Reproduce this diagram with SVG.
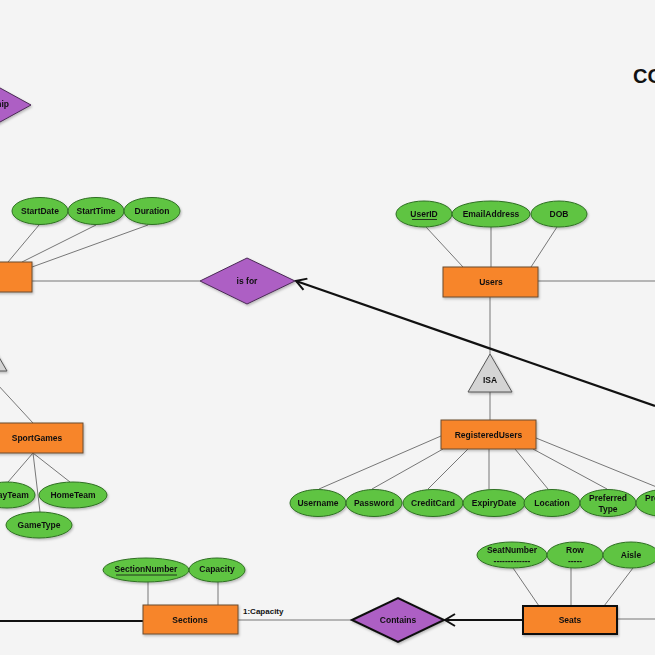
<svg xmlns="http://www.w3.org/2000/svg" width="655" height="655" viewBox="0 0 655 655">
<defs>
<style>
.ent{fill:#f7852c;stroke:#6b4a2e;stroke-width:1}
.entb{fill:#f7852c;stroke:#111;stroke-width:2}
.att{fill:#5ec443;stroke:#2f6f22;stroke-width:1}
.rel{fill:#ad5ec4;stroke:#4a2a55;stroke-width:1}
.relb{fill:#ad5ec4;stroke:#111;stroke-width:2}
.isa{fill:#d4d4d4;stroke:#555;stroke-width:1}
.t{font-family:"Liberation Sans",Arial,sans-serif;font-weight:bold;font-size:8.5px;fill:#111;text-anchor:middle;dominant-baseline:central}
.ln{stroke:#777;stroke-width:1;fill:none}
.thick{stroke:#111;stroke-width:2.2;fill:none}
</style>
<marker id="open" markerWidth="14" markerHeight="14" refX="11" refY="7" orient="auto" markerUnits="userSpaceOnUse">
<path d="M1,1 L11,7 L1,13" fill="none" stroke="#111" stroke-width="2"/>
</marker>
<filter id="sh" x="-20%" y="-20%" width="140%" height="150%">
<feDropShadow dx="1" dy="1.5" stdDeviation="1" flood-color="#000" flood-opacity="0.25"/>
</filter>
</defs>
<rect width="655" height="655" fill="#f4f4f4"/>

<g id="connectors">
<line class="ln" x1="32" y1="281" x2="200" y2="281"/>
<line class="ln" x1="39" y1="225" x2="8" y2="262"/>
<line class="ln" x1="96" y1="225" x2="22" y2="262"/>
<line class="ln" x1="148" y1="225" x2="32" y2="267"/>
<line class="ln" x1="426" y1="227" x2="463" y2="267"/>
<line class="ln" x1="491" y1="227" x2="491" y2="267"/>
<line class="ln" x1="557" y1="227" x2="531" y2="267"/>
<line class="ln" x1="538" y1="281" x2="655" y2="281"/>
<line class="ln" x1="490" y1="297" x2="490" y2="354"/>
<line class="ln" x1="490" y1="392" x2="490" y2="420"/>
<line class="ln" x1="319" y1="489" x2="441" y2="436"/>
<line class="ln" x1="372" y1="489" x2="443" y2="449"/>
<line class="ln" x1="428" y1="489" x2="468" y2="449"/>
<line class="ln" x1="489" y1="489" x2="489" y2="449"/>
<line class="ln" x1="548" y1="489" x2="515" y2="449"/>
<line class="ln" x1="607" y1="489" x2="533" y2="449"/>
<line class="ln" x1="664" y1="490" x2="536" y2="438"/>
<line class="thick" x1="655" y1="406" x2="296" y2="281" marker-end="url(#open)"/>
<line class="ln" x1="-15" y1="371" x2="33" y2="423"/>
<line class="ln" x1="33" y1="453" x2="8" y2="482"/>
<line class="ln" x1="33" y1="453" x2="70" y2="482"/>
<line class="ln" x1="33" y1="453" x2="40" y2="512"/>
<line class="ln" x1="148" y1="581" x2="148" y2="605"/>
<line class="ln" x1="218" y1="582" x2="218" y2="605"/>
<line class="thick" x1="0" y1="621" x2="143" y2="621"/>
<line class="ln" x1="238" y1="620" x2="352" y2="620"/>
<line class="ln" x1="513" y1="568" x2="539" y2="606"/>
<line class="ln" x1="571" y1="568" x2="571" y2="606"/>
<line class="ln" x1="633" y1="568" x2="604" y2="606"/>
<line class="ln" x1="617" y1="619" x2="655" y2="619"/>
<line class="thick" x1="523" y1="620" x2="445" y2="620" marker-end="url(#open)"/>
<text class="t" x="243" y="611" style="text-anchor:start;font-size:8px">1:Capacity</text>
</g>

<g id="title"><text x="633" y="83" style="font-family:'Liberation Sans',Arial,sans-serif;font-weight:bold;font-size:20px;fill:#111">CO</text></g>

<g id="rel-top" filter="url(#sh)">
<polygon class="rel" points="-71,105 -20,77 31,105 -20,133"/>
<text class="t" x="9" y="104" style="text-anchor:end">Relationship</text>
</g>

<g id="entity-left" filter="url(#sh)"><rect class="ent" x="-40" y="262" width="72" height="30"/></g>
<g id="attr-startdate" filter="url(#sh)"><ellipse class="att" cx="40" cy="211" rx="28" ry="13.5"/><text class="t" x="40" y="211">StartDate</text></g>
<g id="attr-starttime" filter="url(#sh)"><ellipse class="att" cx="96" cy="211" rx="28" ry="13.5"/><text class="t" x="96" y="211">StartTime</text></g>
<g id="attr-duration" filter="url(#sh)"><ellipse class="att" cx="152" cy="211" rx="28" ry="13.5"/><text class="t" x="152" y="211">Duration</text></g>

<g id="rel-isfor" filter="url(#sh)"><polygon class="rel" points="200,281 247,258 295,281 247,304"/><text class="t" x="247" y="281">is for</text></g>

<g id="entity-users" filter="url(#sh)"><rect class="ent" x="443" y="267" width="95" height="30"/><text class="t" x="491" y="282">Users</text></g>
<g id="attr-userid" filter="url(#sh)"><ellipse class="att" cx="424" cy="214" rx="28" ry="13"/><text class="t" x="424" y="214">UserID</text><line x1="412" y1="219.5" x2="437" y2="219.5" stroke="#111" stroke-width="0.8"/></g>
<g id="attr-email" filter="url(#sh)"><ellipse class="att" cx="491" cy="214" rx="39" ry="13"/><text class="t" x="491" y="214">EmailAddress</text></g>
<g id="attr-dob" filter="url(#sh)"><ellipse class="att" cx="559" cy="214" rx="28" ry="13"/><text class="t" x="559" y="214">DOB</text></g>

<g id="isa-users" filter="url(#sh)"><polygon class="isa" points="490,354 512,392 468,392"/><text class="t" x="490" y="380">ISA</text></g>

<g id="entity-registered" filter="url(#sh)"><rect class="ent" x="441" y="420" width="95" height="29"/><text class="t" x="488.5" y="435">RegisteredUsers</text></g>
<g id="attr-username" filter="url(#sh)"><ellipse class="att" cx="318" cy="503" rx="28" ry="13.5"/><text class="t" x="318" y="503">Username</text></g>
<g id="attr-password" filter="url(#sh)"><ellipse class="att" cx="374" cy="503" rx="28" ry="13.5"/><text class="t" x="374" y="503">Password</text></g>
<g id="attr-creditcard" filter="url(#sh)"><ellipse class="att" cx="433" cy="503" rx="30" ry="13.5"/><text class="t" x="433" y="503">CreditCard</text></g>
<g id="attr-expiry" filter="url(#sh)"><ellipse class="att" cx="494" cy="503" rx="31" ry="13.5"/><text class="t" x="494" y="503">ExpiryDate</text></g>
<g id="attr-location" filter="url(#sh)"><ellipse class="att" cx="552" cy="503" rx="28" ry="13.5"/><text class="t" x="552" y="503">Location</text></g>
<g id="attr-preftype" filter="url(#sh)"><ellipse class="att" cx="608" cy="503" rx="28" ry="13.5"/><text class="t" x="608" y="497.5">Preferred</text><text class="t" x="608" y="508.5">Type</text></g>
<g id="attr-prefother" filter="url(#sh)"><ellipse class="att" cx="664" cy="503" rx="28" ry="13.5"/><text class="t" x="664" y="497.5">Preferred</text><text class="t" x="664" y="508.5">City</text></g>

<g id="isa-left" filter="url(#sh)"><polygon class="isa" points="-15,333 7,371 -37,371"/></g>
<g id="entity-sportgames" filter="url(#sh)"><rect class="ent" x="-9" y="423" width="92" height="30"/><text class="t" x="37" y="438">SportGames</text></g>
<g id="attr-awayteam" filter="url(#sh)"><ellipse class="att" cx="7" cy="495" rx="28" ry="13"/><text class="t" x="7" y="495">AwayTeam</text></g>
<g id="attr-hometeam" filter="url(#sh)"><ellipse class="att" cx="73" cy="495" rx="34" ry="13"/><text class="t" x="73" y="495">HomeTeam</text></g>
<g id="attr-gametype" filter="url(#sh)"><ellipse class="att" cx="39" cy="525" rx="33" ry="13"/><text class="t" x="39" y="525">GameType</text></g>

<g id="entity-sections" filter="url(#sh)"><rect class="ent" x="143" y="605" width="95" height="29"/><text class="t" x="190" y="620">Sections</text></g>
<g id="attr-sectionnumber" filter="url(#sh)"><ellipse class="att" cx="146" cy="570" rx="43" ry="12"/><text class="t" x="146" y="569">SectionNumber</text><line x1="116" y1="575" x2="177" y2="575" stroke="#111" stroke-width="0.8"/></g>
<g id="attr-capacity" filter="url(#sh)"><ellipse class="att" cx="217" cy="570" rx="28" ry="12"/><text class="t" x="217" y="569">Capacity</text></g>

<g id="rel-contains" filter="url(#sh)"><polygon class="relb" points="352,620 398,598 444,620 398,642"/><text class="t" x="398" y="620">Contains</text></g>

<g id="entity-seats" filter="url(#sh)"><rect class="entb" x="523" y="606" width="94" height="28"/><text class="t" x="570" y="620">Seats</text></g>
<g id="attr-seatnumber" filter="url(#sh)"><ellipse class="att" cx="512" cy="555" rx="35" ry="13"/><text class="t" x="512" y="550">SeatNumber</text><text class="t" x="512" y="561">-------------</text></g>
<g id="attr-row" filter="url(#sh)"><ellipse class="att" cx="575" cy="555" rx="28" ry="13"/><text class="t" x="575" y="550">Row</text><text class="t" x="575" y="561">-----</text></g>
<g id="attr-aisle" filter="url(#sh)"><ellipse class="att" cx="631" cy="555" rx="28" ry="13"/><text class="t" x="631" y="555">Aisle</text></g>
</svg>
